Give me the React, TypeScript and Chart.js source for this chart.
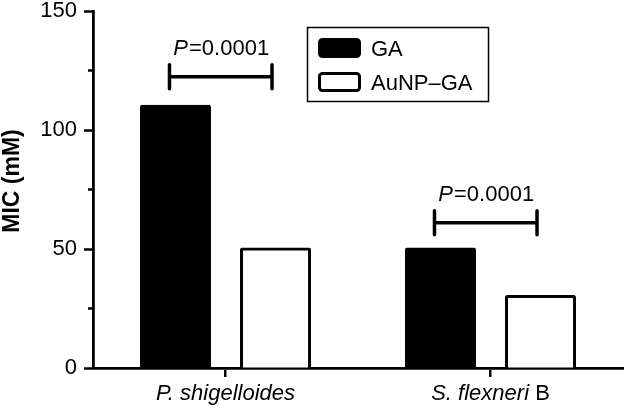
import React, { useEffect, useRef } from "react";
import { Chart, registerables } from "chart.js";

Chart.register(...registerables);

const categories = ["P. shigelloides", "S. flexneri B"];
const categoryItalic = ["P. shigelloides", "S. flexneri"];
const categoryPlain = ["", " B"];
const seriesNames = ["GA", "AuNP\u2013GA"];
const gaValues = [110, 50];
const aunpValues = [50, 30];
const pValues = ["0.0001", "0.0001"];
const bracketLevels = [122.4, 61];
const yMin = 0;
const yMax = 150;
const yMajorStep = 50;
const minorTicks = [25, 75, 125];
const yTitle = "MIC (mM)";

const FONT = '"Liberation Sans", Arial, sans-serif';

const customPlugin = {
  id: "custom",
  afterDraw(chart: any) {
    const ctx = chart.ctx as CanvasRenderingContext2D;
    const ys = chart.scales.y;
    const xs = chart.scales.x;
    const area = chart.chartArea;
    ctx.save();

    // minor ticks
    ctx.strokeStyle = "#000";
    ctx.lineWidth = 2.5;
    minorTicks.forEach((v) => {
      const y = ys.getPixelForValue(v);
      ctx.beginPath();
      ctx.moveTo(area.left - 5, y);
      ctx.lineTo(area.left, y);
      ctx.stroke();
    });

    // y title
    ctx.save();
    ctx.translate(13, 181);
    ctx.rotate(-Math.PI / 2);
    ctx.font = `bold 23px ${FONT}`;
    ctx.fillStyle = "#000";
    ctx.textAlign = "center";
    ctx.textBaseline = "middle";
    ctx.fillText(yTitle, 0, 0);
    ctx.restore();

    // x labels (italic + plain)
    ctx.fillStyle = "#000";
    ctx.textBaseline = "alphabetic";
    categories.forEach((_, i) => {
      const cx = xs.getPixelForValue(i);
      ctx.font = `italic 22px ${FONT}`;
      const w1 = ctx.measureText(categoryItalic[i]).width;
      ctx.font = `22px ${FONT}`;
      const w2 = ctx.measureText(categoryPlain[i]).width;
      const x0 = cx - (w1 + w2) / 2;
      ctx.font = `italic 22px ${FONT}`;
      ctx.textAlign = "left";
      ctx.fillText(categoryItalic[i], x0, 400);
      ctx.font = `22px ${FONT}`;
      ctx.fillText(categoryPlain[i], x0 + w1, 400);
    });

    // significance brackets
    const m0 = chart.getDatasetMeta(0);
    const m1 = chart.getDatasetMeta(1);
    categories.forEach((_, i) => {
      const xa = m0.data[i].x - 6;
      const xb = m1.data[i].x - 3.5;
      const y = ys.getPixelForValue(bracketLevels[i]);
      ctx.strokeStyle = "#000";
      ctx.lineWidth = 3.5;
      ctx.lineCap = "round";
      ctx.beginPath();
      ctx.moveTo(xa, y);
      ctx.lineTo(xb, y);
      ctx.moveTo(xa, y - 12);
      ctx.lineTo(xa, y + 12);
      ctx.moveTo(xb, y - 12);
      ctx.lineTo(xb, y + 12);
      ctx.stroke();
      // text
      const t1 = "P";
      const t2 = "=" + pValues[i];
      ctx.font = `italic 22px ${FONT}`;
      const w1 = ctx.measureText(t1).width;
      ctx.font = `22px ${FONT}`;
      const w2 = ctx.measureText(t2).width;
      const cx = (xa + xb) / 2;
      const x0 = cx - (w1 + w2) / 2;
      ctx.textAlign = "left";
      ctx.textBaseline = "alphabetic";
      ctx.font = `italic 22px ${FONT}`;
      ctx.fillText(t1, x0, y - 22);
      ctx.font = `22px ${FONT}`;
      ctx.fillText(t2, x0 + w1 + 1, y - 22);
    });

    // legend
    ctx.lineCap = "butt";
    ctx.strokeStyle = "#000";
    ctx.lineWidth = 1.5;
    ctx.strokeRect(307.5, 27.5, 181, 74);
    const fills = ["#000", "#fff"];
    seriesNames.forEach((name, i) => {
      const sy = 38 + i * 34;
      ctx.beginPath();
      (ctx as any).roundRect(319.5, sy + 1.5, 40, 17, 3);
      ctx.fillStyle = fills[i];
      ctx.fill();
      ctx.lineWidth = 3;
      ctx.strokeStyle = "#000";
      ctx.stroke();
      ctx.fillStyle = "#000";
      ctx.font = `22px ${FONT}`;
      ctx.textAlign = "left";
      ctx.textBaseline = "alphabetic";
      ctx.fillText(name, 371, sy + 18);
    });

    ctx.restore();
  },
};

export default function App() {
  const ref = useRef<HTMLCanvasElement>(null);
  useEffect(() => {
    document.body.style.margin = "0";
    const chart = new Chart(ref.current as HTMLCanvasElement, {
      type: "bar",
      data: {
        labels: categories,
        datasets: [
          {
            label: seriesNames[0],
            data: gaValues,
            backgroundColor: "#000",
            borderColor: "#000",
            borderWidth: 3,
            borderRadius: 2,
            inflateAmount: 1.5,
            categoryPercentage: 0.755,
            barPercentage: 0.68,
          } as any,
          {
            label: seriesNames[1],
            data: aunpValues,
            backgroundColor: "#fff",
            borderColor: "#000",
            borderWidth: 3,
            borderRadius: 2,
            inflateAmount: 1.5,
            categoryPercentage: 0.755,
            barPercentage: 0.68,
          } as any,
        ],
      },
      options: {
        responsive: false,
        animation: false,
        devicePixelRatio: 1,
        layout: { padding: { top: 11, right: 1, left: 0, bottom: 0 } },
        plugins: { legend: { display: false }, tooltip: { enabled: false } },
        scales: {
          x: {
            offset: true,
            grid: {
              display: true,
              drawOnChartArea: false,
              offset: false,
              tickLength: 9,
              tickWidth: 2.5,
              tickColor: "#000",
              color: "#000",
              lineWidth: 2.5,
            },
            border: { display: true, color: "#000", width: 2.8 },
            ticks: { display: false },
            afterFit: (s: any) => {
              s.height = 40;
              s.paddingLeft = 0;
              s.paddingRight = 0;
            },
          } as any,
          y: {
            min: yMin,
            max: yMax,
            ticks: {
              stepSize: yMajorStep,
              font: { family: FONT, size: 22 },
              color: "#000",
              padding: 7,
            },
            grid: {
              drawOnChartArea: false,
              tickLength: 9,
              tickWidth: 2.5,
              tickColor: "#000",
              color: "#000",
            },
            border: { display: true, color: "#000", width: 2.8 },
            afterFit: (s: any) => {
              s.width = 93;
              s.paddingTop = 0;
              s.paddingBottom = 0;
            },
          } as any,
        },
      },
      plugins: [customPlugin],
    });
    return () => chart.destroy();
  }, []);
  return (
    <div style={{ width: 624, height: 408 }}>
      <canvas ref={ref} width={624} height={408} style={{ display: "block" }} />
    </div>
  );
}
